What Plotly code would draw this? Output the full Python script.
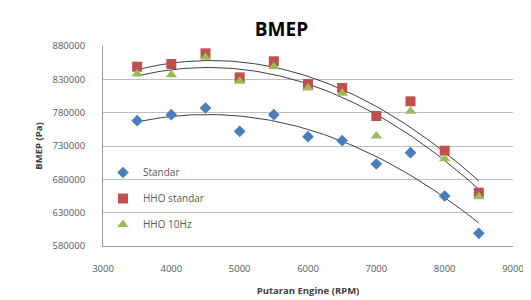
import numpy as np
import plotly.graph_objects as go

rpm = [3500, 4000, 4500, 5000, 5500, 6000, 6500, 7000, 7500, 8000, 8500]
standar = [768000, 777000, 787000, 752000, 777000, 744000, 738000, 703000, 720000, 655000, 599000]
hho_standar = [849000, 853000, 869000, 833000, 857000, 823000, 817000, 775000, 797000, 723000, 660000]
hho_10hz = [838000, 837000, 863000, 827000, 849000, 817000, 809000, 745000, 782000, 711000, 654000]

series = [
    ("Standar", standar, "#4a7ebb", "diamond", 9),
    ("HHO standar", hho_standar, "#c0504d", "square", 10),
    ("HHO 10Hz", hho_10hz, "#9bbb59", "triangle-up", 10),
]

fig = go.Figure()
xs = np.linspace(min(rpm), max(rpm), 100)
for name, vals, color, sym, size in series:
    c = np.polyfit(rpm, vals, 2)
    fig.add_trace(go.Scatter(x=xs, y=np.polyval(c, xs), mode="lines",
                             line=dict(color="#404040", width=1), showlegend=False,
                             hoverinfo="skip"))
for i, (name, vals, color, sym, size) in enumerate(series):
    fig.add_trace(go.Scatter(x=rpm, y=vals, mode="markers", name=name,
                             legendgroup=f"g{i}",
                             marker=dict(symbol=sym, size=size, color=color)))

fig.update_layout(
    width=531, height=300,
    margin=dict(l=95, r=26, t=38, b=62),
    paper_bgcolor="white", plot_bgcolor="white",
    font=dict(family="Open Sans, Liberation Sans, sans-serif", color="#595959", size=9),
    title=dict(text="<b>BMEP</b>", x=0.515, xanchor="center", y=0.93, yanchor="middle",
               yref="container",
               font=dict(size=19, color="black")),
    legend=dict(x=0.0, y=0.44, xanchor="left", yanchor="top",
                bgcolor="rgba(0,0,0,0)", tracegroupgap=7,
                font=dict(size=10, color="#595959")),
    xaxis=dict(range=[3000, 9000], dtick=1000, showgrid=False,
               showline=True, linecolor="#999999", linewidth=1,
               ticks="outside", ticklen=14, tickcolor="rgba(0,0,0,0)",
               tickfont=dict(size=9.5, color="#595959"),
               title=dict(text="<b>Putaran Engine (RPM)</b>", standoff=12,
                          font=dict(size=9.5, color="#404040"))),
    yaxis=dict(range=[580000, 880000], tick0=580000, dtick=50000, showgrid=True,
               gridcolor="#bfbfbf", gridwidth=1, zeroline=False,
               showline=True, linecolor="#999999", linewidth=1,
               ticks="outside", ticklen=15, tickcolor="rgba(0,0,0,0)",
               tickformat="d",
               tickfont=dict(size=9.5, color="#595959"),
               title=dict(text="<b>BMEP (Pa)</b>", standoff=8,
                          font=dict(size=9.5, color="#404040"))),
)

fig.write_html("out.html")
